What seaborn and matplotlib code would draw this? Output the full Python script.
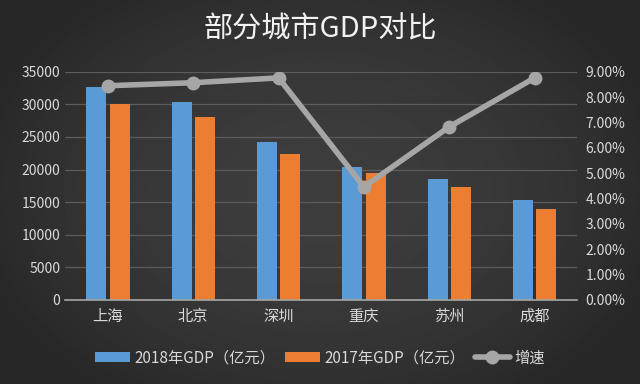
import numpy as np
import pandas as pd
import seaborn as sns
import matplotlib.pyplot as plt
import matplotlib.ticker as mticker

sns.set_theme(style="dark")
plt.rcParams['font.family'] = ['Noto Sans CJK SC', 'DejaVu Sans']

cities = ['上海', '北京', '深圳', '重庆', '苏州', '成都']
gdp_2018 = [32680, 30320, 24222, 20363, 18597, 15343]
gdp_2017 = [30133, 28015, 22438, 19425, 17320, 13890]
growth = [0.0845, 0.0857, 0.0876, 0.0446, 0.0683, 0.0876]
label_2018 = '2018年GDP（亿元）'
label_2017 = '2017年GDP（亿元）'
label_growth = '增速'

bars = pd.DataFrame({
    'city': cities * 2,
    'gdp': gdp_2018 + gdp_2017,
    'year': [label_2018] * len(cities) + [label_2017] * len(cities),
})
line = pd.DataFrame({'city': cities, 'growth': growth})

bg = '#3d3d3d'
txt = '#d9d9d9'

fig = plt.figure(figsize=(6.4, 3.84), dpi=100, facecolor=bg)

# soft vignette background like the original slide
bgax = fig.add_axes([0, 0, 1, 1], zorder=-10)
yy, xx = np.mgrid[-1:1:200j, -1:1:300j]
shade = 1 - 0.35 * np.clip(xx ** 2 * 0.8 + yy ** 2 * 0.6, 0, 1)
bgax.imshow(shade, cmap='gray', vmin=0, vmax=4.2, aspect='auto',
            extent=[0, 1, 0, 1])
bgax.set_axis_off()

ax = fig.add_axes([0.102, 0.219, 0.8, 0.594])
ax.patch.set_alpha(0)

sns.barplot(data=bars, x='city', y='gdp', hue='year',
            palette=['#5b9bd5', '#ed7d31'], width=0.55, gap=0.15,
            saturation=1, linewidth=0, ax=ax)

ax.set_ylim(0, 35000)
ax.set_xlim(-0.5, 5.5)
ax.set_yticks(range(0, 35001, 5000))
ax.grid(axis='y', color='#5c5c5c', lw=0.9)
ax.set_axisbelow(True)
for s in ['top', 'right', 'left']:
    ax.spines[s].set_visible(False)
ax.spines['bottom'].set_color('#a6a6a6')
ax.spines['bottom'].set_linewidth(1.2)
ax.tick_params(axis='both', colors=txt, labelsize=10, length=0)
ax.tick_params(axis='x', labelsize=11, pad=6)
ax.set_xlabel('')
ax.set_ylabel('')

ax2 = ax.twinx()
sns.lineplot(data=line, x='city', y='growth', color='#a6a6a6', lw=4,
             marker='o', markersize=10, markeredgewidth=0, ax=ax2,
             label=label_growth)
ax2.set_ylim(0, 0.09)
ax2.set_yticks([i / 100 for i in range(10)])
ax2.yaxis.set_major_formatter(mticker.PercentFormatter(1.0, decimals=2))
ax2.tick_params(axis='y', colors=txt, labelsize=10, length=0, pad=6)
ax2.set_ylabel('')
ax2.grid(False)
for s in ax2.spines.values():
    s.set_visible(False)

h1, l1 = ax.get_legend_handles_labels()
h2, l2 = ax2.get_legend_handles_labels()
ax.get_legend().remove()
ax2.get_legend().remove()
fig.legend(h1 + h2, l1 + l2, loc='center', bbox_to_anchor=(0.5, 0.068),
           ncol=3, frameon=False, fontsize=11, labelcolor=txt,
           handlelength=2.3, handleheight=0.65, handletextpad=0.3,
           columnspacing=0.6)

fig.text(0.5, 0.922, '部分城市GDP对比', ha='center', va='center',
         fontsize=21, fontweight='medium', color='#f2f2f2')

fig.savefig('out.png', dpi=100, facecolor=bg)
